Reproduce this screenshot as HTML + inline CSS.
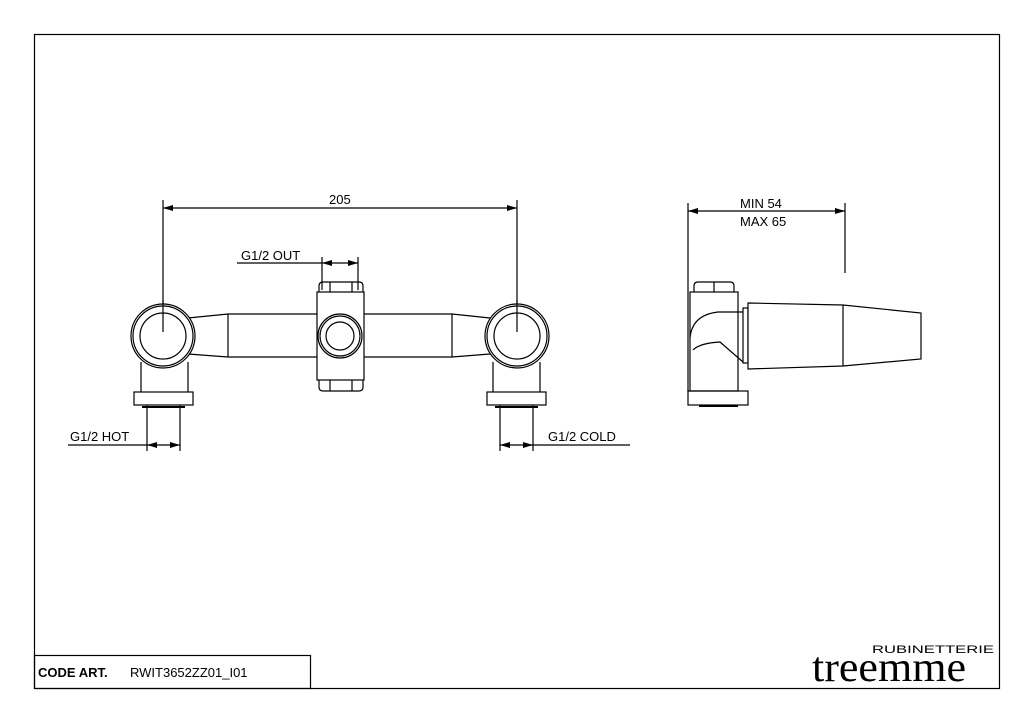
<!DOCTYPE html>
<html><head><style>
html,body{margin:0;padding:0;background:#fff;}
svg{display:block;}
text{font-family:"Liberation Sans",sans-serif;fill:#000;}
</style></head><body>
<svg width="1024" height="723" viewBox="0 0 1024 723" xmlns="http://www.w3.org/2000/svg">
<defs>
<marker id="a" viewBox="0 0 10 6" refX="10" refY="3" markerWidth="10" markerHeight="6" orient="auto-start-reverse" markerUnits="userSpaceOnUse"><path d="M0,0 L10,3 L0,6 z" fill="#000"/></marker>
</defs>
<rect x="34.5" y="34.5" width="965" height="654" fill="none" stroke="#000" stroke-width="1.2"/>
<rect x="34.5" y="655.5" width="276" height="33" fill="none" stroke="#000" stroke-width="1.2"/>
<text x="38" y="677" font-size="13" font-weight="bold">CODE ART.</text>
<text x="130" y="677" font-size="13">RWIT3652ZZ01_I01</text>
<text x="872" y="653" font-size="11" textLength="122" lengthAdjust="spacingAndGlyphs">RUBINETTERIE</text>
<text x="812" y="681" font-size="42" textLength="154" lengthAdjust="spacingAndGlyphs" style="font-family:'Liberation Serif',serif">treemme</text>

<g fill="none" stroke="#000" stroke-width="1.2">
<line x1="163" y1="200" x2="163" y2="336"/>
<line x1="517" y1="200" x2="517" y2="336"/>
<line x1="163" y1="208" x2="517" y2="208" marker-start="url(#a)" marker-end="url(#a)"/>
<line x1="322" y1="257" x2="322" y2="290"/>
<line x1="358" y1="257" x2="358" y2="290"/>
<line x1="237" y1="263" x2="322" y2="263"/>
<line x1="322" y1="263" x2="358" y2="263" marker-start="url(#a)" marker-end="url(#a)"/>
<line x1="147" y1="405" x2="147" y2="451"/>
<line x1="180" y1="405" x2="180" y2="451"/>
<line x1="68" y1="445" x2="147" y2="445"/>
<line x1="147" y1="445" x2="180" y2="445" marker-start="url(#a)" marker-end="url(#a)"/>
<line x1="500" y1="405" x2="500" y2="451"/>
<line x1="533" y1="405" x2="533" y2="451"/>
<line x1="533" y1="445" x2="630" y2="445"/>
<line x1="500" y1="445" x2="533" y2="445" marker-start="url(#a)" marker-end="url(#a)"/>

<path d="M188,318 L228,314 L317,314 M188,354 L228,357 L317,357 M228,314 V357"/>
<path d="M364,314 L452,314 L490,318 M364,357 L452,357 L490,354 M452,314 V357"/>
<path d="M141,362 V392 M188,362 V392 M493,362 V392 M540,362 V392"/>
<rect x="134" y="392" width="59" height="13"/>
<rect x="487" y="392" width="59" height="13"/>
<line x1="142" y1="407" x2="185" y2="407" stroke-width="2"/>
<line x1="495" y1="407" x2="538" y2="407" stroke-width="2"/>
<circle cx="163" cy="336" r="32" fill="#fff"/><circle cx="163" cy="336" r="30"/><circle cx="163" cy="336" r="23"/>
<circle cx="517" cy="336" r="32" fill="#fff"/><circle cx="517" cy="336" r="30"/><circle cx="517" cy="336" r="23"/>
<line x1="163" y1="300" x2="163" y2="332"/><line x1="517" y1="300" x2="517" y2="332"/>
<rect x="317" y="292" width="47" height="88" fill="#fff"/>
<path d="M319,292 V286 Q319,282 323,282 H359 Q363,282 363,286 V292 M330,282 V292 M352,282 V292"/>
<path d="M319,380 V387 Q319,391 323,391 H359 Q363,391 363,387 V380 M330,380 V391 M352,380 V391"/>
<circle cx="340" cy="336" r="22" fill="#fff"/><circle cx="340" cy="336" r="20"/><circle cx="340" cy="336" r="14"/>

<line x1="688" y1="203" x2="688" y2="392"/>
<line x1="845" y1="203" x2="845" y2="273"/>
<line x1="688" y1="211" x2="845" y2="211" marker-start="url(#a)" marker-end="url(#a)"/>
<path d="M694,292 V286 Q694,282 698,282 H730 Q734,282 734,286 V292 M714,282 V292"/>
<rect x="690" y="292" width="48" height="99"/>
<path d="M690,338 Q692,315 718,312 H743 M693,350 Q700,343 720,342 L743,362"/>
<rect x="688" y="391" width="60" height="14"/>
<line x1="699" y1="406" x2="738" y2="406" stroke-width="2"/>
<rect x="743" y="308" width="5" height="55" fill="#fff"/>
<path d="M748,303 L843,305 L921,313 L921,359 L843,366 L748,369 Z M843,305 V366" fill="#fff"/>
</g>
<text x="329" y="204" font-size="13">205</text>
<text x="241" y="260" font-size="13">G1/2 OUT</text>
<text x="70" y="441" font-size="13">G1/2 HOT</text>
<text x="548" y="441" font-size="13">G1/2 COLD</text>
<text x="740" y="208" font-size="13">MIN 54</text>
<text x="740" y="226" font-size="13">MAX 65</text>
</svg>
</body></html>
